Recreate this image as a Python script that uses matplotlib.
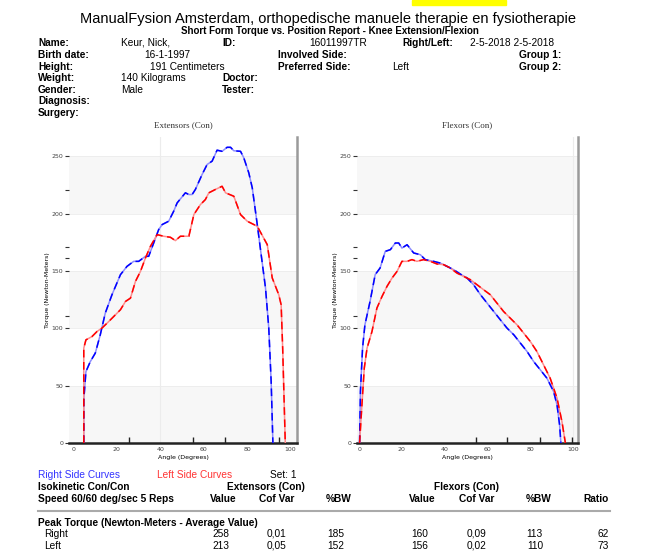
import matplotlib
matplotlib.use('Agg')
import matplotlib.pyplot as plt
from matplotlib.patches import Rectangle
from matplotlib.lines import Line2D

# extensors (con) - right side (blue) and left side (red)
ext_right_x = [4.8, 4.8, 5.8, 7.8, 10.1, 12.4, 14.7, 17.8, 21.7, 24.7, 27.8, 30.1, 33.2, 34.7, 37.0,
               39.3, 40.9, 43.9, 46.2, 47.8, 51.6, 53.2, 54.7, 56.2, 59.3, 61.6, 63.9, 66.2, 68.5,
               70.8, 72.4, 73.9, 77.0, 78.5, 80.8, 82.4, 84.7, 86.5, 88.5, 90.0, 91.1, 91.9]
ext_right_y = [0, 37.6, 62.3, 71, 78.4, 94.4, 113.3, 129.4, 146.9, 154.1, 158.5, 158.5, 162.9, 162.9,
               174.5, 186.2, 190.6, 193.5, 202.2, 209.5, 218.3, 216.8, 216.8, 221.2, 234.3, 243,
               245.9, 255.5, 254.5, 258, 258, 255, 254.5, 248.8, 235.7, 222.6, 190.6, 164.3, 135.2,
               100.3, 53.6, 0]
ext_left_x = [4.8, 4.8, 5.8, 8.6, 10.9, 13.2, 16.3, 19.4, 21.7, 24.0, 26.3, 28.6, 30.9, 33.2, 35.5,
              38.6, 41.6, 44.7, 47.0, 49.3, 53.2, 55.5, 58.5, 60.8, 62.4, 65.4, 68.5, 70.1, 73.9,
              77.0, 80.1, 84.7, 89.3, 91.6, 94.6, 95.7, 96.4, 97.6]
ext_left_y = [0, 82.8, 90, 92.9, 97.3, 100.3, 106, 111.9, 116.3, 123.5, 126.4, 141, 149.7, 161.4,
              171.6, 181.8, 180.4, 179.5, 176.6, 180.4, 180.4, 199.3, 208, 212.4, 218.3, 221.2,
              224, 218.3, 215.3, 199.3, 193.5, 189.1, 173.1, 144, 129.4, 120.6, 82.8, 0]

# flexors (con)
flx_right_x = [0.2, 0.6, 1.6, 2.7, 5.1, 7.5, 9.8, 12.2, 14.6, 16.9, 18.5, 20.0, 22.4, 25.5, 28.6,
               30.9, 34.8, 37.9, 41.1, 44.2, 47.3, 50.4, 53.5, 56.7, 59.8, 62.9, 66.0, 69.1, 72.3,
               75.4, 78.5, 81.6, 84.7, 87.8, 90.9, 92.5, 93.7, 94.3]
flx_right_y = [0, 44.9, 82.8, 103.1, 123.5, 146.9, 152.7, 167.2, 168.7, 174.5, 174.5, 170.1, 173.0,
               165.8, 164.3, 160, 158.5, 157, 154.1, 151.2, 147.4, 144, 138.1, 129.4, 122.1, 114.8,
               107.5, 100.3, 94.4, 87.1, 79.8, 71, 63.8, 56.5, 44.9, 33.2, 15.7, 0]
flx_left_x = [0.2, 1.3, 2.4, 3.7, 6.0, 8.3, 10.7, 13.0, 15.4, 17.7, 20.0, 22.4, 24.7, 27.0, 30.1,
              33.3, 36.4, 39.5, 42.6, 45.7, 48.8, 52.0, 55.1, 58.2, 61.3, 64.4, 67.5, 70.6, 73.8,
              76.9, 80.0, 83.1, 86.2, 89.3, 92.5, 94.8, 96.4]
flx_left_y = [0, 33.2, 65.3, 82.8, 97.3, 117.7, 127.9, 136.6, 144, 149.7, 158.5, 158.5, 160, 158.5,
              160, 158.5, 156.2, 155.6, 152.7, 148.3, 145.4, 142.5, 138.1, 133.7, 129.4, 122.1,
              114.8, 109, 103.1, 95.9, 88.6, 79.8, 68.2, 56.5, 39.1, 18.6, 0]

y_ticks = [0, 50, 100, 150, 200, 250]
y_marks = [111, 161, 171, 221]
x_ticks = [0, 20, 40, 60, 80, 100]
ext_x_marks = [25.5, 40, 55, 70, 94.5]
flx_x_marks = [54.5, 69.3, 84.4, 99.7]

patient_rows = [
    [('Name:', 38, True), ('Keur, Nick,', 121, False), ('ID:', 222, True), ('16011997TR', 309, False),
     ('Right/Left:', 402, True), ('2-5-2018 2-5-2018', 470, False)],
    [('Birth date:', 38, True), ('16-1-1997', 144, False), ('Involved Side:', 278, True), ('Group 1:', 519, True)],
    [('Height:', 38, True), ('191 Centimeters', 150, False), ('Preferred Side:', 278, True), ('Left', 392, False),
     ('Group 2:', 519, True)],
    [('Weight:', 38, True), ('140 Kilograms', 121, False), ('Doctor:', 222, True)],
    [('Gender:', 38, True), ('Male', 121, False), ('Tester:', 222, True)],
    [('Diagnosis:', 38, True)],
    [('Surgery:', 38, True)],
]
row_y = [42, 54, 66, 77, 89, 100, 112]

col_headers = ['Value', 'Cof Var', '%BW', 'Value', 'Cof Var', '%BW', 'Ratio']
col_right = [237, 294, 352, 436, 494, 551, 609]
peak_right = ['258', '0,01', '185', '160', '0,09', '113', '62']
peak_left = ['213', '0,05', '152', '156', '0,02', '110', '73']

W, H = 659, 554
fig = plt.figure(figsize=(W / 100, H / 100), dpi=100)
fam = ['Liberation Sans', 'DejaVu Sans']


def t(x, y, s, **kw):
    # y is the visual middle of the capitals, text is put on its baseline
    size = kw.setdefault('fontsize', 7.3)
    kw.setdefault('family', fam)
    fig.text(x / W, 1 - (y + size * 0.48) / H, s, va='baseline', **kw)


fig.patches.append(Rectangle((412 / W, 1 - 5 / H), 94 / W, 5 / H, transform=fig.transFigure,
                             color='#ffff00', zorder=0))
t(328, 18, 'ManualFysion Amsterdam, orthopedische manuele therapie en fysiotherapie',
  fontsize=10.5, ha='center')
t(330, 31, 'Short Form Torque vs. Position Report - Knee Extension/Flexion',
  fontsize=7, weight='bold', ha='center')
for row, yy in zip(patient_rows, row_y):
    for s, xx, b in row:
        t(xx, yy, s, weight='bold' if b else 'normal')


def curve(ax, x, y, light, dark):
    ax.plot(x, y, color=light, lw=1.1, zorder=3)
    ax.plot(x, y, color=dark, lw=1.1, dashes=(5, 3), zorder=4)


def panel(rect, xlim, title, xmarks, blue, red, vline):
    ax = fig.add_axes(rect)
    ax.set_xlim(*xlim)
    ax.set_ylim(0, 267)
    for lo in [0, 100, 200]:
        ax.axhspan(lo, lo + 50, color='#f7f7f7', lw=0, zorder=0)
    for yy in [50, 100, 150, 200, 250]:
        ax.axhline(yy, color='#ececec', lw=0.6, zorder=1)
    ax.axvline(vline, color='#ececec', lw=0.8, zorder=1)
    curve(ax, blue[0], blue[1], '#8c8cff', '#0000ff')
    curve(ax, red[0], red[1], '#ff8c8c', '#ff0000')
    for sp in ['top', 'left']:
        ax.spines[sp].set_visible(False)
    ax.spines['bottom'].set_linewidth(1.8)
    ax.spines['bottom'].set_color('#222222')
    ax.spines['right'].set_linewidth(1.8)
    ax.spines['right'].set_color('#9a9a9a')
    ax.set_yticks(y_ticks)
    ax.set_yticklabels([str(v) for v in y_ticks], fontsize=4.5, color='#444444', family='DejaVu Sans')
    ax.set_yticks(y_marks, minor=True)
    ax.tick_params(axis='y', which='both', length=3, width=0.8, color='#333333', pad=1)
    ax.set_xticks(x_ticks)
    ax.set_xticklabels([str(v) for v in x_ticks], fontsize=4.5, color='#444444', family='DejaVu Sans')
    ax.set_xticks(xmarks, minor=True)
    ax.tick_params(axis='x', which='major', length=0, pad=3)
    ax.tick_params(axis='x', which='minor', direction='in', length=4, width=1, color='#222222')
    ax.set_title(title, family='Liberation Serif', fontsize=6.5, pad=7, color='#333333')
    ax.set_xlabel('Angle (Degrees)', fontsize=4.5, family='DejaVu Sans', labelpad=2)
    ax.set_ylabel('Torque (Newton-Meters)', fontsize=4.5, family='DejaVu Sans', labelpad=1)
    return ax


panel([69 / W, 1 - 443 / H, 228 / W, 306 / H], (-2, 103), 'Extensors (Con)', ext_x_marks,
      (ext_right_x, ext_right_y), (ext_left_x, ext_left_y), 40)
panel([357 / W, 1 - 443 / H, 221 / W, 306 / H], (-1, 102.3), 'Flexors (Con)', flx_x_marks,
      (flx_right_x, flx_right_y), (flx_left_x, flx_left_y), 100)

t(38, 474, 'Right Side Curves', color='#3333ff')
t(157, 474, 'Left Side Curves', color='#ff3333')
t(270, 474, 'Set: 1')
t(38, 486, 'Isokinetic Con/Con', weight='bold')
t(266, 486, 'Extensors (Con)', weight='bold', ha='center')
t(466, 486, 'Flexors (Con)', weight='bold', ha='center')
t(38, 498, 'Speed 60/60 deg/sec 5 Reps', weight='bold')
for s, xr in zip(col_headers, col_right):
    t(xr, 498, s, weight='bold', ha='right')
fig.add_artist(Line2D([38 / W, 610 / W], [1 - 511 / H, 1 - 511 / H], color='#aaaaaa', lw=1.5))
t(38, 522, 'Peak Torque (Newton-Meters - Average Value)', weight='bold')
t(44, 533, 'Right')
t(44, 545, 'Left')
for s, xr in zip(peak_right, col_right):
    t(xr - 8 if xr != 609 else xr, 533, s, ha='right')
for s, xr in zip(peak_left, col_right):
    t(xr - 8 if xr != 609 else xr, 545, s, ha='right')

fig.savefig('out.png', dpi=100)
